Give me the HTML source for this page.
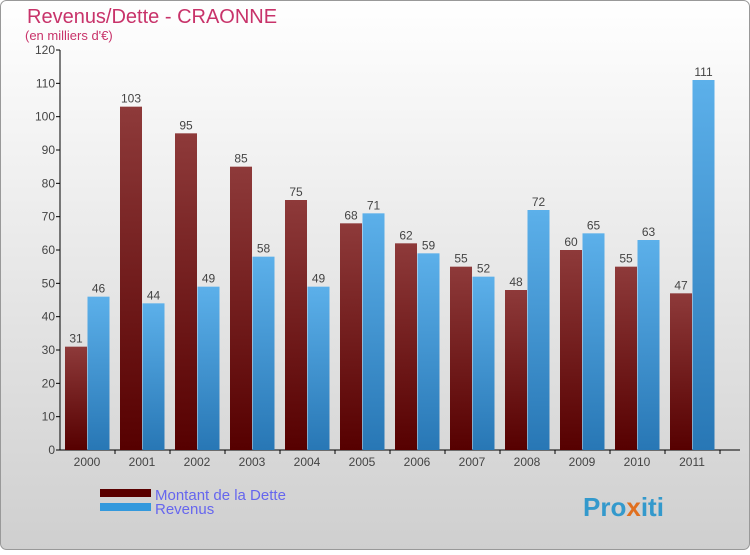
<!DOCTYPE html>
<html><head><meta charset="utf-8"><style>
body{margin:0;width:750px;height:550px;overflow:hidden}
svg text{font-family:"Liberation Sans",sans-serif}
</style></head><body>
<svg width="750" height="550" xmlns="http://www.w3.org/2000/svg">
<defs>
<linearGradient id="bg" x1="0" y1="0" x2="0" y2="1"><stop offset="0" stop-color="#ffffff"/><stop offset="1" stop-color="#cfcfcf"/></linearGradient>
<linearGradient id="gd" x1="0" y1="0" x2="0" y2="1"><stop offset="0" stop-color="#8e3a3a"/><stop offset="1" stop-color="#560000"/></linearGradient>
<linearGradient id="gr" x1="0" y1="0" x2="0" y2="1"><stop offset="0" stop-color="#5cb0ea"/><stop offset="1" stop-color="#2877b5"/></linearGradient>
</defs>
<rect x="0.5" y="0.5" width="749" height="549" rx="6" fill="url(#bg)" stroke="#999"/>
<text x="27" y="23" font-size="20" fill="#c8336a">Revenus/Dette - CRAONNE</text>
<text x="25" y="40" font-size="13" fill="#c8336a">(en milliers d'€)</text>
<g id="axes"></g>
<g id="bars"></g>
<rect x="100" y="489" width="51" height="8" fill="#5a0000"/>
<rect x="100" y="503" width="51" height="8" fill="#3399dd"/>
<text x="155" y="500" font-size="15" fill="#6666ee">Montant de la Dette</text>
<text x="155" y="514" font-size="15" fill="#6666ee">Revenus</text>
<text x="583" y="516" font-size="26" font-weight="bold" fill="#3399cc">Pro<tspan fill="#e07020">x</tspan>iti</text>
</svg>
<script>
const years=["2000","2001","2002","2003","2004","2005","2006","2007","2008","2009","2010","2011"];
const dette=[31,103,95,85,75,68,62,55,48,60,55,47];
const revenus=[46,44,49,58,49,71,59,52,72,65,63,111];
const yTicks=[0,10,20,30,40,50,60,70,80,90,100,110,120];
const NS="http://www.w3.org/2000/svg";
const x0=60,y0=450,pitch=55,ymax=120,ph=400;
const y=v=>y0-v/ymax*ph;
const xg=i=>x0+pitch*i;
function mk(t,a,p){const e=document.createElementNS(NS,t);for(const k in a)e.setAttribute(k,a[k]);p.appendChild(e);return e;}
const ax=document.getElementById('axes'),bg=document.getElementById('bars');
const yl=mk('line',{x1:x0,y1:y(ymax),x2:x0,y2:y0,stroke:'#000'},ax);


const xl=mk('line',{x1:x0,y1:y0,x2:740,y2:y0,stroke:'#000'},ax);


yTicks.forEach(v=>{
  mk('line',{x1:x0-4,y1:y(v),x2:x0,y2:y(v),stroke:'#000'},ax);
  const t=mk('text',{x:x0-5,y:y(v)+4,'font-size':12,'text-anchor':'end',fill:'#444'},ax);
  t.textContent=v;
  
  
});
years.forEach((yr,i)=>{
  const g=xg(i);
  mk('line',{x1:g+pitch,y1:y0,x2:g+pitch,y2:y0+4,stroke:'#000'},ax);
  const t=mk('text',{x:g+27,y:y0+16,'font-size':12,'text-anchor':'middle',fill:'#444'},ax);
  t.textContent=yr;
  
  
  const d=mk('rect',{x:g+5,y:y(dette[i]),width:22,height:y0-y(dette[i]),fill:'url(#gd)'},bg);
  
  
  const r=mk('rect',{x:g+27.5,y:y(revenus[i]),width:22,height:y0-y(revenus[i]),fill:'url(#gr)'},bg);
  
  
  const ld=mk('text',{x:g+16,y:y(dette[i])-4,'font-size':12,'text-anchor':'middle',fill:'#444'},bg);
  ld.textContent=dette[i];
  
  
  const lr=mk('text',{x:g+38.5,y:y(revenus[i])-4,'font-size':12,'text-anchor':'middle',fill:'#444'},bg);
  lr.textContent=revenus[i];
  
  
});
</script>
</body></html>
